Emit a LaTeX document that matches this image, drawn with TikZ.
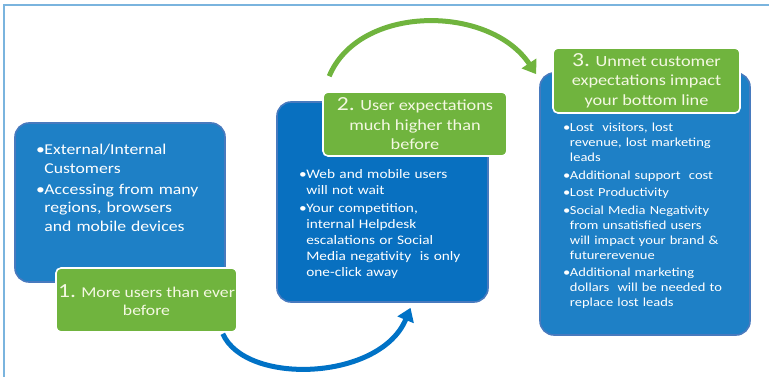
\documentclass[tikz,border=0pt]{standalone}
\usepackage{fontspec}
\setmainfont{Carlito}[FakeStretch=1.18]
\usepackage{tikz}
\usetikzlibrary{arrows.meta, positioning, calc}
\definecolor{azulCaja}{RGB}{30,128,198}
\definecolor{azulOscuro}{RGB}{8,112,192}
\definecolor{bordeAzul}{RGB}{72,122,190}
\definecolor{verdeEtiq}{RGB}{112,180,62}
\definecolor{textoEtiq}{RGB}{244,248,226}
\definecolor{azulFlecha}{RGB}{0,114,198}
\definecolor{marco}{RGB}{122,180,222}

% bullet item with hanging indent
\newcommand{\bitem}[1]{\hangindent=0.55em\hangafter=1\noindent\makebox[0.55em][l]{\textbullet}#1\par\vspace{2.5pt}}
% larger step number
\newcommand{\numgrande}[1]{{\fontsize{20}{19}\selectfont #1}}

\begin{document}
\begin{tikzpicture}[
  x=1pt, y=-1pt,
  caja/.style={rectangle, rounded corners=14pt, draw=bordeAzul, line width=1.6pt,
               fill=azulCaja, minimum width=#1, inner sep=0pt},
  etiq/.style={rectangle, rounded corners=5pt, draw=white, line width=1.6pt,
               fill=verdeEtiq, text=textoEtiq, align=center, inner sep=0pt,
               font=\fontsize{15.5}{19.5}\selectfont},
  lista/.style={anchor=north west, inner sep=0pt, text=white, align=left, text width=#1},
  flecha/.style={line width=5pt, -{Triangle[length=13pt, width=17pt]}}
]
  \useasboundingbox (0,0) rectangle (769,377);

  % frame lines
  \draw[marco, line width=2pt] (3.5,377) -- (3.5,5) -- (769,5);

  % Cajas azules
  \node[caja=210pt, minimum height=159pt] (caja1) at (120,202.5) {};
  \node[caja=211pt, minimum height=200pt, fill=azulOscuro] (caja2) at (382.5,202) {};
  \node[caja=210pt, minimum height=262pt] (caja3) at (645,204) {};

  % Etiquetas verdes
  \node[etiq, minimum width=181pt, minimum height=64pt, font=\fontsize{15}{18.5}\selectfont] (lbl1) at (146.5,300)
    {\numgrande{1.} More users than ever\\before};
  \node[etiq, minimum width=184pt, minimum height=64pt] (lbl2) at (415,124)
    {\numgrande{2.} User expectations\\much higher than\\before};
  \node[etiq, minimum width=187pt, minimum height=65pt] (lbl3) at (646.5,80.5)
    {\numgrande{3.} Unmet customer\\expectations impact\\your bottom line};

  % Texto de las cajas
  \node[lista=190pt, font=\fontsize{15}{18.5}\selectfont] (txt1) at (36,144)
    {\bitem{External/Internal\newline Customers}
     \bitem{Accessing from many\newline regions, browsers\newline and mobile devices}};
  \node[lista=185pt, font=\fontsize{13}{16}\selectfont] (txt2) at (299,169)
    {\bitem{Web and mobile users\newline will not wait}
     \bitem{Your competition,\newline internal Helpdesk\newline escalations or Social\newline Media negativity\ \ is only\newline one-click away}};
  \node[lista=185pt, font=\fontsize{12.3}{15}\selectfont] (txt3) at (563,123)
    {\bitem{Lost\ \ visitors, lost\newline revenue, lost marketing\newline leads}
     \bitem{Additional support\ \ cost}
     \bitem{Lost Productivity}
     \bitem{Social Media Negativity\newline from unsatisfied users\newline will impact your brand \&\newline futurerevenue}
     \bitem{Additional marketing\newline dollars\ \ will be needed to\newline replace lost leads}};

  % Flechas
  \draw[flecha, azulFlecha] ([xshift=-15pt,yshift=-1pt]lbl1.south east)
    .. controls +(23,52) and +(-30,73) .. ([xshift=28pt,yshift=-5pt]caja2.south);
  \draw[flecha, verdeEtiq] ([xshift=7pt,yshift=15pt]lbl2.north west)
    .. controls +(30,-72) and +(-47,-70) .. ([xshift=-3pt,yshift=-2pt]caja3.north west);
\end{tikzpicture}
\end{document}
